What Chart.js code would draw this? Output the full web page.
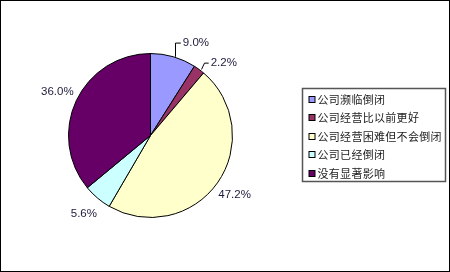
<!DOCTYPE html>
<html>
<head>
<meta charset="utf-8">
<script src="https://cdn.jsdelivr.net/npm/chart.js@4/dist/chart.umd.min.js"></script>
<style>
  html, body { margin: 0; padding: 0; background: #fff; }
  #wrap { width: 450px; height: 272px; position: relative; }
</style>
</head>
<body>
<div id="wrap"><canvas id="pie" width="450" height="272"></canvas></div>
<script>
// data
const categories = ['公司濒临倒闭', '公司经营比以前更好', '公司经营困难但不会倒闭', '公司已经倒闭', '没有显著影响'];
const shares = [9.0, 2.2, 47.2, 5.6, 36.0];
const pctLabels = ['9.0%', '2.2%', '47.2%', '5.6%', '36.0%'];
const sliceColors = ['#9999ff', '#993366', '#ffffcc', '#ccffff', '#660066'];

const labelFont = '11.5px "Liberation Sans", Arial, sans-serif';
const legendFont = '11px "Noto Sans CJK SC", sans-serif';

// frame round the whole picture
const framePlugin = {
  id: 'frame',
  beforeDraw(chart){
    const ctx = chart.ctx;
    ctx.save();
    ctx.fillStyle = '#fff';
    ctx.fillRect(0, 0, chart.width, chart.height);
    ctx.restore();
  },
  afterDraw(chart){
    const ctx = chart.ctx;
    ctx.save();
    ctx.strokeStyle = '#000';
    ctx.lineWidth = 1;
    ctx.strokeRect(0.5, 0.5, chart.width - 1, chart.height - 1);
    ctx.restore();
  }
};

// percent labels outside the slices, small ones nudged with a leader line
const pctPlugin = {
  id: 'pctLabels',
  afterDatasetsDraw(chart, args, opts){
    const ctx = chart.ctx;
    const arcs = chart.getDatasetMeta(0).data;
    ctx.save();
    ctx.font = labelFont;
    ctx.fillStyle = '#1c1c3c';
    ctx.textBaseline = 'middle';
    arcs.forEach((arc, i) => {
      const {x, y, startAngle, endAngle, outerRadius} = arc.getProps(['x','y','startAngle','endAngle','outerRadius'], true);
      const mid = (startAngle + endAngle) / 2;
      const nudge = (opts.nudge[i] || 0) * Math.PI / 180;
      const a = mid + nudge;
      const r = outerRadius + opts.offset;
      const lx = x + Math.cos(a) * r;
      const ly = y + Math.sin(a) * r;
      const txt = pctLabels[i];
      const w = ctx.measureText(txt).width;
      if (nudge){
        // leader: from slice edge up to the label's row, then across
        const ex = x + Math.cos(mid) * outerRadius;
        const ey = y + Math.sin(mid) * outerRadius;
        const tx = lx - w / 2;
        ctx.strokeStyle = '#000';
        ctx.lineWidth = 1;
        ctx.beginPath();
        ctx.moveTo(Math.round(ex + 2) + 0.5, ey);
        ctx.lineTo(Math.round(ex + 2) + 0.5 + (i === 1 ? 3 : 0), ly);
        ctx.lineTo(tx - 2, ly);
        ctx.stroke();
      }
      ctx.textAlign = 'center';
      ctx.fillText(txt, lx, ly);
    });
    ctx.restore();
  }
};

// boxed legend on the right
const legendPlugin = {
  id: 'boxLegend',
  afterDraw(chart, args, opts){
    const ctx = chart.ctx;
    const ds = chart.data.datasets[0];
    ctx.save();
    ctx.strokeStyle = '#555';
    ctx.lineWidth = 1.5;
    ctx.strokeRect(opts.left, opts.top, opts.width, opts.height);
    ctx.font = legendFont;
    ctx.letterSpacing = '0.3px';
    ctx.textBaseline = 'middle';
    ctx.textAlign = 'left';
    chart.data.labels.forEach((lab, i) => {
      const cy = opts.top + opts.firstRow + i * opts.rowGap;
      ctx.fillStyle = ds.backgroundColor[i];
      ctx.fillRect(opts.left + 6.5, Math.round(cy) - 3.5, 6, 6);
      ctx.strokeStyle = '#000';
      ctx.lineWidth = 1;
      ctx.strokeRect(opts.left + 6.5, Math.round(cy) - 3.5, 6, 6);
      ctx.fillStyle = '#222';
      ctx.fillText(lab, opts.left + 15, cy);
    });
    ctx.restore();
  }
};

new Chart(document.getElementById('pie'), {
  type: 'pie',
  data: {
    labels: categories,
    datasets: [{
      data: shares,
      backgroundColor: sliceColors,
      borderColor: '#000',
      borderWidth: 1
    }]
  },
  options: {
    responsive: false,
    animation: false,
    layout: { padding: { left: 68, right: 217, top: 53, bottom: 54 } },
    plugins: {
      legend: { display: false },
      tooltip: { enabled: false },
      pctLabels: { offset: 21, nudge: [10, 9, 0, 0, 0] },
      boxLegend: { left: 302.5, top: 88.5, width: 143, height: 93, firstRow: 11, rowGap: 18.5 }
    }
  },
  plugins: [framePlugin, pctPlugin, legendPlugin]
});
</script>
</body>
</html>
